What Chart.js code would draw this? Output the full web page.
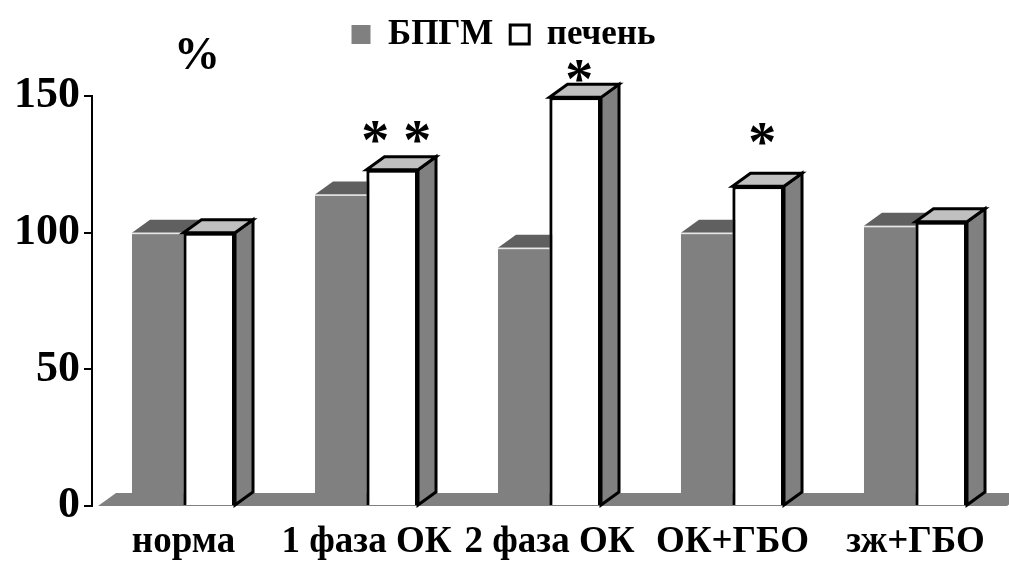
<!DOCTYPE html>
<html>
<head>
<meta charset="utf-8">
<script src="https://cdn.jsdelivr.net/npm/chart.js@4/dist/chart.umd.min.js"></script>
<style>
	html, body { margin: 0; padding: 0; background: #fff; }
	#wrap { width: 1009px; height: 562px; }
</style>
</head>
<body>
<div id="wrap"><canvas id="grafica"></canvas></div>
<script>
const categorias = ['норма', '1 фаза ОК', '2 фаза ОК', 'ОК+ГБО', 'зж+ГБО'];
const bpgm = [100, 114, 94.5, 100, 102.5];
const pechen = [100, 123, 149.5, 117, 104];
const marcas = ['', '* *', '*', '*', ''];
const nivelMarcas = [null, 137, 159, 136, null];
const yTicks = [0, 50, 100, 150];

const fuente = 'Liberation Serif, Times New Roman, serif';
const dx = 18, dy = -13;

function cara(ctx, pts, fill, stroke) {
	ctx.beginPath();
	ctx.moveTo(pts[0][0], pts[0][1]);
	for (let i = 1; i < pts.length; i++) ctx.lineTo(pts[i][0], pts[i][1]);
	ctx.closePath();
	ctx.fillStyle = fill;
	ctx.fill();
	if (stroke) {
		ctx.lineWidth = 3;
		ctx.lineJoin = 'miter';
		ctx.strokeStyle = stroke;
		ctx.stroke();
	}
}

const barras3d = {
	id: 'barras3d',
	beforeDatasetsDraw(chart) {
		const { ctx, chartArea: a } = chart;
		ctx.save();
		cara(ctx, [[a.left + 6, a.bottom], [a.right, a.bottom], [a.right + dx, a.bottom + dy], [a.left + 6 + dx, a.bottom + dy]], '#808080');
		ctx.restore();
	},
	afterDatasetsDraw(chart) {
		const ctx = chart.ctx;
		ctx.save();
		chart.getDatasetMeta(0).data.forEach((b) => {
			const l = b.x - b.width / 2, r = b.x + b.width / 2, t = b.y;
			cara(ctx, [[r, t], [r + dx, t + dy], [r + dx, b.base + dy], [r, b.base]], '#6a6a6a');
			cara(ctx, [[l, t], [r, t], [r + dx, t + dy], [l + dx, t + dy]], '#606060');
			ctx.fillStyle = '#e8e8e8';
			ctx.fillRect(l, t, b.width, 1.5);
		});
		chart.getDatasetMeta(1).data.forEach((b) => {
			const l = b.x - b.width / 2, r = b.x + b.width / 2, t = b.y;
			b.draw(ctx);
			cara(ctx, [[r, t], [r + dx, t + dy], [r + dx, b.base + dy], [r, b.base]], '#808080', '#000');
			cara(ctx, [[l, t], [r, t], [r + dx, t + dy], [l + dx, t + dy]], '#c0c0c0', '#000');
		});
		ctx.restore();
	},
	afterDraw(chart) {
		const { ctx, chartArea: a, scales } = chart;
		ctx.save();
		ctx.fillStyle = '#000';
		ctx.textAlign = 'center';
		ctx.textBaseline = 'alphabetic';
		// marcas de significancia
		ctx.font = 'bold 56px ' + fuente;
		chart.getDatasetMeta(1).data.forEach((b, i) => {
			if (!marcas[i]) return;
			const m = ctx.measureText(marcas[i]);
			const yc = scales.y.getPixelForValue(nivelMarcas[i]);
			const off = (m.actualBoundingBoxAscent - m.actualBoundingBoxDescent) / 2;
			ctx.fillText(marcas[i], b.x + 4, yc + off);
		});
		// unidad
		ctx.font = 'bold 46px ' + fuente;
		const mp = ctx.measureText('%');
		ctx.fillText('%', a.left + 105, 53 + (mp.actualBoundingBoxAscent - mp.actualBoundingBoxDescent) / 2);
		ctx.restore();
	},
};

const ctx = document.querySelector('#grafica');
const chart = new Chart(ctx, {
	type: 'bar',
	data: {
		labels: categorias,
		datasets: [
			{
				label: 'БПГМ',
				data: bpgm,
				backgroundColor: '#808080',
				borderColor: '#808080',
				borderWidth: 0,
			},
			{
				label: 'печень',
				data: pechen,
				backgroundColor: '#ffffff',
				borderColor: '#000000',
				borderWidth: 3,
			},
		],
	},
	options: {
		responsive: true,
		maintainAspectRatio: false,
		animation: false,
		events: [],
		categoryPercentage: 0.563,
		barPercentage: 1,
		layout: { padding: { top: 0, right: 2, bottom: 0, left: 0 } },
		plugins: {
			legend: {
				position: 'top',
				labels: {
					boxWidth: 19,
					boxHeight: 19,
					padding: 17,
					color: '#000',
					font: { family: fuente, size: 35, weight: 'bold' },
				},
			},
			title: {
				display: true,
				text: '',
				weight: 500,
				font: { size: 10 },
				padding: { top: 0, bottom: 22 },
			},
			tooltip: { enabled: false },
		},
		scales: {
			x: {
				grid: { display: false, drawTicks: false },
				border: { display: false },
				ticks: {
					color: '#000',
					padding: 14,
					font: { family: fuente, size: 37, weight: 'bold' },
				},
				afterFit(scale) {
					scale.height = 56;
				},
			},
			y: {
				min: 0,
				max: 150,
				afterBuildTicks(scale) {
					scale.ticks = yTicks.map((v) => ({ value: v }));
				},
				grid: {
					drawOnChartArea: false,
					drawTicks: true,
					tickLength: 8,
					color: '#000',
					lineWidth: 2,
				},
				border: { display: true, color: '#000', width: 2 },
				ticks: {
					color: '#000',
					padding: 4,
					font: { family: fuente, size: 44, weight: 'bold' },
				},
				afterFit(scale) {
					scale.width = 92;
				},
			},
		},
	},
	plugins: [barras3d],
});
</script>
</body>
</html>
